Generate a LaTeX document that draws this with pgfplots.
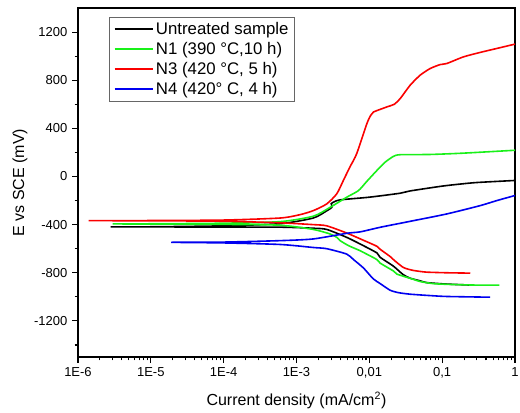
\documentclass[border=0pt]{standalone}
\usepackage{pgfplots}
\pgfplotsset{compat=1.18}
\usepackage{fontspec}
\setmainfont{Liberation Sans}
\definecolor{cgreen}{RGB}{25,240,25}
\definecolor{cred}{RGB}{250,0,0}
\definecolor{cblue}{RGB}{0,0,240}
\newcommand{\lsample}[1]{\textcolor{#1}{\rule[3.5pt]{29pt}{1.4pt}}\hspace{2pt}}
\begin{document}
\begin{tikzpicture}
\useasboundingbox (-58.5pt,-41.25pt) rectangle (331.5pt,267.75pt);
\begin{axis}[
  at={(0,0)}, anchor=south west, scale only axis,
  width=327.75pt, height=261.75pt,
  xmode=log, xmin=1e-6, xmax=1, ymin=-1500, ymax=1400,
  xtick={1e-6,1e-5,1e-4,1e-3,1e-2,1e-1,1},
  xticklabels={1E-6,1E-5,1E-4,1E-3,{0,01},{0,1},1},
  minor xtick={2e-6,3e-6,4e-6,5e-6,6e-6,7e-6,8e-6,9e-6,
               2e-5,3e-5,4e-5,5e-5,6e-5,7e-5,8e-5,9e-5,
               2e-4,3e-4,4e-4,5e-4,6e-4,7e-4,8e-4,9e-4,
               2e-3,3e-3,4e-3,5e-3,6e-3,7e-3,8e-3,9e-3,
               2e-2,3e-2,4e-2,5e-2,6e-2,7e-2,8e-2,9e-2,
               0.2,0.3,0.4,0.5,0.6,0.7,0.8,0.9},
  ytick={-1200,-800,-400,0,400,800,1200},
  yticklabels={-1200,-800,-400,0,400,800,1200},
  minor ytick={-1400,-1000,-600,-200,200,600,1000},
  tick align=outside, xtick pos=left, ytick pos=left,
  major tick length=4.5pt, minor tick length=2.5pt,
  every tick/.style={black, line width=0.8pt},
  axis line style={line width=1.1pt},
  tick label style={font=\fontsize{9.75}{11}\selectfont},
  label style={font=\fontsize{12}{14}\selectfont},
  xlabel={Current density (mA/cm\textsuperscript{2})},
  ylabel={E vs SCE (mV)},
  x label style={at={(axis description cs:0.5,-0.125)}, anchor=center},
  y label style={at={(axis description cs:-0.133,0.5)}, anchor=center, rotate=0},
  legend cell align=left,
  legend style={at={(0.071,0.974)}, anchor=north west, draw=black!60,
    font=\fontsize{12.6}{13.5}\selectfont, row sep=0.5pt, inner xsep=2pt, inner ysep=1.5pt,
    column sep=0pt},
  legend image code/.code={},
]
\addlegendimage{black}
\addlegendentry{\lsample{black}Untreated sample}
\addlegendimage{cgreen}
\addlegendentry{\lsample{cgreen}N1 (390 °C,10 h)}
\addlegendimage{cred}
\addlegendentry{\lsample{cred}N3 (420 °C, 5 h)}
\addlegendimage{cblue}
\addlegendentry{\lsample{cblue}N4 (420° C, 4 h)}
\addplot[forget plot, black, line width=1.2pt, smooth, tension=0.4] table {
x y
0.267 -903
0.116 -894
0.0617 -882
0.0499 -867
0.0363 -845
0.0291 -815
0.0214 -745
0.0141 -672
0.0127 -635
0.0083 -575
0.0049 -506
0.0026 -440
0.0017 -430
6e-4 -421
1e-4 -420
1e-5 -419
2.8e-6 -419
1e-5 -418
1e-4 -410
6e-4 -392
0.0017 -345
0.0026 -285
0.00306 -256
0.00300 -225
0.0032 -214
0.004 -194
0.01 -172
0.0265 -139
0.0363 -120
0.1 -80
0.177 -63
0.3 -50
1 -33
};
\addplot[forget plot, cgreen, line width=1.2pt, smooth, tension=0.4] table {
x y
0.61 -903
0.27 -902
0.116 -896
0.075 -890
0.05 -873
0.0404 -855
0.0239 -811
0.0214 -785
0.0141 -720
0.0127 -690
0.0083 -631
0.0075 -617
0.0052 -575
0.00397 -533
0.00358 -506
0.0029 -478
0.0017 -440
6e-4 -405
1e-4 -398
3.1e-6 -394
1e-5 -393
1e-4 -388
6e-4 -375
0.0017 -330
0.0029 -256
0.0049 -172
0.0071 -117
0.00925 -40
0.0127 50
0.0165 119
0.0214 167
0.0265 181
0.068 183
0.196 194
1 218
};
\addplot[forget plot, cred, line width=1.2pt, smooth, tension=0.4] table {
x y
0.243 -803
0.116 -800
0.0617 -795
0.05 -789
0.0404 -781
0.034 -770
0.0291 -755
0.0239 -715
0.0214 -690
0.0193 -665
0.0141 -605
0.0127 -580
0.0083 -530
0.0049 -470
0.0026 -410
0.0017 -400
6e-4 -385
1e-4 -372
1e-5 -368
1.4e-6 -367
1e-5 -366
1e-4 -362
6e-4 -345
0.00112 -317
0.00171 -283
0.0026 -228
0.00357 -144
0.0044 -33
0.0054 78
0.0067 189
0.00925 439
0.0105 510
0.0114 536
0.0174 578
0.022 600
0.0265 647
0.0363 758
0.0499 842
0.0684 897
0.094 930
0.116 939
0.196 994
0.333 1031
0.564 1064
1 1100
};
\addplot[forget plot, cblue, line width=1.2pt, smooth, tension=0.4] table {
x y
0.456 -1003
0.116 -997
0.07 -990
0.0363 -978
0.025 -965
0.0193 -945
0.0141 -890
0.0113 -850
0.0083 -760
0.00605 -690
0.0049 -645
0.0026 -600
0.0017 -590
6e-4 -565
1e-4 -552
1.9e-5 -547
1e-4 -545
6e-4 -533
0.0017 -519
0.0049 -472
0.0075 -460
0.0141 -422
0.0265 -389
0.0404 -367
0.116 -311
0.333 -242
0.564 -200
1 -158
};
\end{axis}
\end{tikzpicture}
\end{document}
